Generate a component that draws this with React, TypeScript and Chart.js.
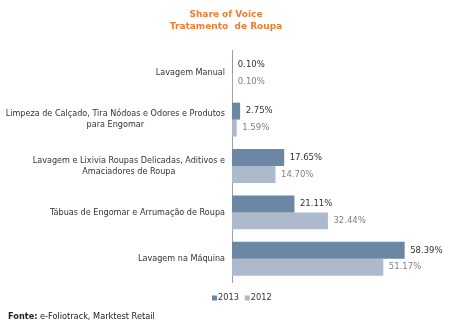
import React, { useEffect, useRef } from "react";
import { Chart, registerables } from "chart.js";

Chart.register(...registerables);

const categories: string[][] = [
  ["Lavagem Manual"],
  ["Limpeza de Calçado, Tira Nódoas e Odores e Produtos", "para Engomar"],
  ["Lavagem e Lixivia Roupas Delicadas, Aditivos e", "Amaciadores de Roupa"],
  ["Tábuas de Engomar e Arrumação de Roupa"],
  ["Lavagem na Máquina"],
];
const values2013 = [0.1, 2.75, 17.65, 21.11, 58.39];
const values2012 = [0.1, 1.59, 14.7, 32.44, 51.17];
const seriesNames = ["2013", "2012"];
const titleLines = ["Share of Voice", "Tratamento  de Roupa"];
const sourceBold = "Fonte:";
const sourceText = " e-Foliotrack, Marktest Retail";

const COLOR_2013 = "#6C87A4";
const COLOR_2012 = "#ADBACC";
const FONT = "'DejaVu Sans', Verdana, sans-serif";

const overlay = {
  id: "overlay",
  afterDraw(chart: any) {
    const ctx = chart.ctx as CanvasRenderingContext2D;
    const area = chart.chartArea;
    const yScale = chart.scales.y;
    ctx.save();
    // title
    ctx.fillStyle = "#F37B2B";
    ctx.font = `bold 9px ${FONT}`;
    ctx.textAlign = "center";
    ctx.textBaseline = "middle";
    titleLines.forEach((t, i) => ctx.fillText(t, 226, 15 + i * 11.5));

    // category labels
    ctx.font = `8.1px ${FONT}`;
    ctx.fillStyle = "#333333";
    categories.forEach((lines, i) => {
      const cy = yScale.getPixelForValue(i);
      const right = area.left - 7;
      let w = 0;
      lines.forEach((l) => (w = Math.max(w, ctx.measureText(l).width)));
      const cx = right - w / 2;
      const lh = 11;
      const y0 = cy - ((lines.length - 1) * lh) / 2;
      ctx.textAlign = "center";
      lines.forEach((l, k) => ctx.fillText(l, cx, y0 + k * lh));
    });

    // value labels
    ctx.textAlign = "left";
    ctx.font = `8.5px ${FONT}`;
    [values2013, values2012].forEach((vals, d) => {
      const meta = chart.getDatasetMeta(d);
      ctx.fillStyle = d === 0 ? "#333333" : "#808080";
      meta.data.forEach((bar: any, i: number) => {
        ctx.fillText(vals[i].toFixed(2) + "%", bar.x + 5.5, bar.y);
      });
    });

    // legend
    ctx.font = `8.2px ${FONT}`;
    const legendY = 298;
    let lx = 212;
    seriesNames.forEach((n, i) => {
      ctx.fillStyle = i === 0 ? COLOR_2013 : COLOR_2012;
      ctx.fillRect(lx, legendY - 2.5, 5, 5);
      ctx.fillStyle = "#333333";
      ctx.fillText(n, lx + 6, legendY);
      lx += 6 + ctx.measureText(n).width + 6;
    });

    // source
    ctx.font = `bold 8.2px ${FONT}`;
    ctx.fillStyle = "#222222";
    ctx.fillText(sourceBold, 8, 317);
    const bw = ctx.measureText(sourceBold).width;
    ctx.font = `8.2px ${FONT}`;
    ctx.fillText(sourceText, 8 + bw, 317);
    ctx.restore();
  },
};

export default function App() {
  const ref = useRef<HTMLCanvasElement | null>(null);
  useEffect(() => {
    document.body.style.margin = "0";
    const chart = new Chart(ref.current as HTMLCanvasElement, {
      type: "bar",
      data: {
        labels: categories.map((c) => c.join(" ")),
        datasets: [
          { label: seriesNames[0], data: values2013, backgroundColor: COLOR_2013, borderWidth: 0, categoryPercentage: 0.73, barPercentage: 1 },
          { label: seriesNames[1], data: values2012, backgroundColor: COLOR_2012, borderWidth: 0, categoryPercentage: 0.73, barPercentage: 1 },
        ],
      },
      options: {
        indexAxis: "y",
        responsive: false,
        animation: false,
        layout: { padding: { left: 232, right: 11, top: 50, bottom: 45 } },
        plugins: { legend: { display: false }, title: { display: false }, tooltip: { enabled: false } },
        scales: {
          x: { display: false, min: 0, max: 70 },
          y: {
            grid: { display: false, drawTicks: false },
            ticks: { display: false },
            border: { display: true, color: "#A0A0A0", width: 1 },
            afterFit: (s: any) => { s.width = 0; },
          },
        },
      },
      plugins: [overlay],
    });
    return () => chart.destroy();
  }, []);
  return (
    <canvas ref={ref} width={450} height={327} style={{ display: "block", background: "#ffffff" }} />
  );
}
